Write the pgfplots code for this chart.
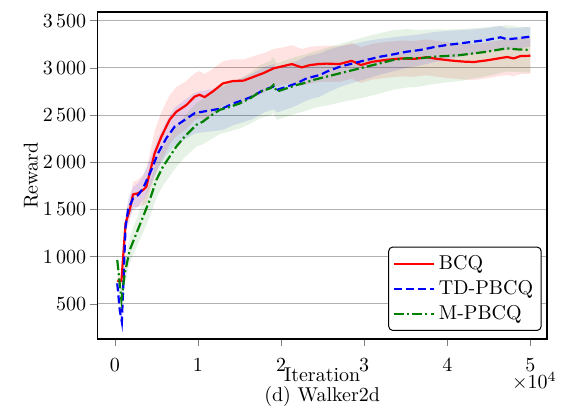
\documentclass[border=0pt]{standalone}
\usepackage{pgfplots}
\pgfplotsset{compat=1.18}
\usepackage{pgfplotstable}
\usepgfplotslibrary{fillbetween}

% x = iteration, m = mean reward, s = spread of the shaded band
\pgfplotstableread{
x m s
300 745 30
800 740 40
1300 1355 100
1800 1495 120
2200 1660 130
2800 1670 145
3400 1705 160
3800 1740 180
4200 1885 200
4800 2095 240
5600 2270 260
6600 2450 260
7400 2535 260
8600 2605 255
9600 2695 250
10200 2715 250
10800 2690 245
11800 2750 240
13000 2835 235
14200 2860 230
15500 2865 225
16700 2905 220
17900 2945 210
19100 2995 205
20100 3015 200
21300 3040 200
22500 3005 195
23500 3030 195
24500 3040 190
25500 3045 190
27000 3040 190
28500 3075 190
29600 3030 190
31000 3065 190
32700 3085 190
34500 3100 190
36000 3095 190
37500 3112 190
38800 3095 190
40400 3078 190
42000 3066 190
43200 3062 190
44800 3080 190
46000 3098 190
47200 3115 190
48000 3100 190
48800 3125 190
50000 3128 190
}\bcq

\pgfplotstableread{
x m s
300 716 30
600 433 40
850 309 30
1300 1316 100
1600 1493 110
2200 1617 120
2800 1652 125
3400 1723 130
4400 1918 150
5200 2095 160
6200 2254 180
7200 2377 200
8400 2448 210
9600 2519 215
10600 2536 220
11800 2554 225
13000 2572 230
14300 2625 230
15500 2660 235
16500 2695 240
17900 2766 240
19100 2801 240
19500 2766 240
20700 2801 240
21900 2837 235
23100 2890 235
23900 2907 230
24700 2925 230
25500 2960 225
27100 3013 215
28700 3048 205
30300 3084 200
31900 3118 190
33500 3143 180
35100 3171 170
36700 3189 165
38300 3218 160
39900 3242 150
41600 3260 140
43200 3278 130
44800 3296 125
46400 3324 120
47200 3303 115
48400 3313 110
50000 3331 105
}\tdpbcq

\pgfplotstableread{
x m s
300 963 80
800 539 80
1200 822 120
1800 1069 140
2600 1246 150
3400 1422 165
4200 1599 180
5000 1811 190
5800 1953 200
6600 2059 210
7400 2165 215
8400 2271 220
9000 2324 225
9800 2395 230
10600 2430 240
11400 2483 250
12600 2554 255
13900 2589 260
15100 2625 265
16300 2678 270
17500 2748 280
18700 2784 290
19100 2819 295
19500 2748 300
20700 2784 300
21900 2819 300
22700 2837 300
23900 2872 300
24700 2890 300
25500 2907 305
27100 2943 310
28700 2978 315
30300 3013 320
31900 3048 320
33500 3084 315
35100 3101 310
36700 3101 300
38300 3118 290
39900 3126 280
41600 3136 275
43200 3154 265
44800 3171 260
46400 3196 250
47200 3207 245
48400 3196 240
50000 3189 240
}\mpbcq

\definecolor{mplgreen}{rgb}{0,0.5,0}
\definecolor{gridgray}{RGB}{176,176,176}

\begin{document}
\begin{tikzpicture}
\begin{axis}[
    scale only axis,
    width=224.8pt, height=163.5pt,
    xmin=-2100, xmax=52000,
    ymin=126, ymax=3592,
    xtick={0,10000,20000,30000,40000,50000},
    xticklabels={0,1,2,3,4,5},
    scaled x ticks=false,
    ytick={500,1000,1500,2000,2500,3000,3500},
    /pgf/number format/1000 sep={\,},
    tick pos=left,
    tick align=outside,
    major tick length=3.5pt,
    xticklabel style={inner sep=0pt, yshift=-5.8pt},
    yticklabel style={xshift=1.5pt},
    ymajorgrids,
    major grid style={gridgray, line width=0.5pt},
    axis line style={line width=0.6pt},
    xlabel={Iteration},
    ylabel={Reward},
    xlabel style={yshift=5.7pt},
    ylabel style={yshift=-4.5pt},
    clip=false,
    legend cell align=left,
    legend style={at={(0.988,0.025)}, anchor=south east, draw=black,
        rounded corners=2pt, line width=0.5pt, row sep=0pt, inner sep=2pt},
    legend image code/.code={
        \draw[#1] (0pt,0pt) -- (20pt,0pt);
    },
]
% shaded bands
\addplot[name path=rU, draw=none, forget plot] table[x=x, y expr=\thisrow{m}+\thisrow{s}] {\bcq};
\addplot[name path=rL, draw=none, forget plot] table[x=x, y expr=\thisrow{m}-\thisrow{s}] {\bcq};
\addplot[red, fill opacity=0.11, draw=none, forget plot] fill between[of=rU and rL];
\addplot[name path=bU, draw=none, forget plot] table[x=x, y expr=\thisrow{m}+\thisrow{s}] {\tdpbcq};
\addplot[name path=bL, draw=none, forget plot] table[x=x, y expr=\thisrow{m}-\thisrow{s}] {\tdpbcq};
\addplot[blue, fill opacity=0.1, draw=none, forget plot] fill between[of=bU and bL];
\addplot[name path=gU, draw=none, forget plot] table[x=x, y expr=\thisrow{m}+\thisrow{s}] {\mpbcq};
\addplot[name path=gL, draw=none, forget plot] table[x=x, y expr=\thisrow{m}-\thisrow{s}] {\mpbcq};
\addplot[mplgreen, fill opacity=0.1, draw=none, forget plot] fill between[of=gU and gL];

% mean curves
\addplot[red, line width=1.1pt, line join=round] table[x=x, y=m] {\bcq};
\addlegendentry{BCQ}
\addplot[blue, line width=1.1pt, dash pattern=on 4pt off 2pt] table[x=x, y=m] {\tdpbcq};
\addlegendentry{TD-PBCQ}
\addplot[mplgreen, line width=1.1pt, dash pattern=on 5pt off 1.6pt on 1pt off 1.6pt] table[x=x, y=m] {\mpbcq};
\addlegendentry{M-PBCQ}

\node[anchor=north east, inner sep=0pt] at ([yshift=-16.5pt, xshift=5pt]rel axis cs:1,0) {$\times10^{4}$};
\node[anchor=center] at ([yshift=-28.5pt]rel axis cs:0.5,0) {(d) Walker2d};
\path (rel axis cs:-0.2164,-0.211) rectangle (rel axis cs:1.0511,1.0367);
\end{axis}
\end{tikzpicture}
\end{document}
